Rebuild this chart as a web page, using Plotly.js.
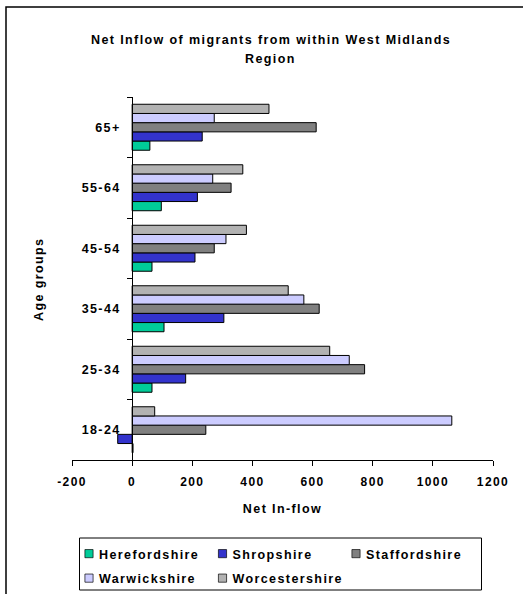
<!DOCTYPE html>
<html>
<head>
<meta charset="utf-8">
<script src="https://cdn.plot.ly/plotly-3.0.1.min.js"></script>
<style>
html,body{margin:0;padding:0;background:#fff;}
#chart{width:523px;height:594px;}
svg text{letter-spacing:1.4px;}
.legendpoints path{transform:translate(30px,0px) scale(0.68);}
</style>
</head>
<body>
<div id="chart"></div>
<script>
// Data
const ageGroups = ['18-24', '25-34', '35-44', '45-54', '55-64', '65+'];
const herefordshire  = [3, 66, 106, 66, 97, 59];
const shropshire     = [-48, 178, 305, 209, 217, 233];
const staffordshire  = [245, 773, 622, 273, 329, 612];
const warwickshire   = [1063, 722, 571, 312, 268, 273];
const worcestershire = [75, 657, 519, 380, 368, 455];
const seriesNames  = ['Herefordshire', 'Shropshire', 'Staffordshire', 'Warwickshire', 'Worcestershire'];
const seriesColors = ['#00CC99', '#3333CC', '#808080', '#CCCCFF', '#B2B2B2'];
const seriesLegend = ['legend', 'legend', 'legend', 'legend2', 'legend2'];
const xTickVals = [-200, 0, 200, 400, 600, 800, 1000, 1200];
const xTickText = ['-200', '0', '200', '400', '600', '800', '1000', '1200'];

const seriesValues = [herefordshire, shropshire, staffordshire, warwickshire, worcestershire];
const FONT = 'Liberation Sans, Arial, sans-serif';
const FS = 12.5;

const traces = seriesValues.map((vals, i) => ({
  type: 'bar',
  orientation: 'h',
  name: seriesNames[i],
  legend: seriesLegend[i],
  legendwidth: (i === 2 || i === 4) ? 110 : 88.5,
  y: ageGroups,
  x: vals,
  marker: { color: seriesColors[i], line: { color: '#000', width: 1 } },
  hoverinfo: 'x+y+name'
}));

const L = 72, R = 30, T = 97, B = 134;
const W = 523 - L - R, H = 594 - T - B;
const px2x = p => (p - L) / W;
const px2y = p => (594 - B - p) / H;

const legendCommon = {
  orientation: 'h', xanchor: 'left', yanchor: 'top',
  borderwidth: 0, bgcolor: 'rgba(0,0,0,0)',
  entrywidth: 88.5, entrywidthmode: 'pixels',
  traceorder: 'normal',
  font: { family: FONT, size: FS, weight: 'bold', color: '#000' }
};

const layout = {
  width: 523, height: 594,
  margin: { l: L, r: R, t: T, b: B, autoexpand: false },
  paper_bgcolor: '#fff', plot_bgcolor: '#fff',
  font: { family: FONT, color: '#000', weight: 'bold' },
  showlegend: true,
  barmode: 'group',
  bargap: 0.24,
  bargroupgap: 0,
  title: {
    text: 'Net Inflow of migrants from within West Midlands',
    xref: 'container', x: 271 / 523, xanchor: 'center',
    yref: 'container', y: 1 - 35.5 / 594, yanchor: 'top',
    pad: { t: 0, b: 0, l: 0, r: 0 },
    font: { family: FONT, size: FS, weight: 'bold', color: '#000' }
  },
  xaxis: {
    range: [-200, 1200],
    tickmode: 'array', tickvals: xTickVals, ticktext: xTickText,
    showgrid: false, zeroline: false,
    showline: true, linecolor: '#000', linewidth: 1,
    ticks: 'outside', ticklen: 5, tickcolor: '#000',
    ticklabelstandoff: 6,
    tickfont: { family: FONT, size: 12, weight: 'bold' },
    title: { text: 'Net In-flow', standoff: 15, font: { family: FONT, size: FS, weight: 'bold' } },
    fixedrange: true
  },
  yaxis: {
    type: 'category',
    categoryorder: 'array', categoryarray: ageGroups,
    anchor: 'free', position: 200 / 1400,
    showgrid: false, zeroline: false,
    showline: true, linecolor: '#000', linewidth: 1,
    ticks: 'outside', tickson: 'boundaries', ticklen: 5, tickcolor: '#000',
    ticklabelstandoff: 9,
    tickfont: { family: FONT, size: FS, weight: 'bold' },
    fixedrange: true
  },
  annotations: [
    {
      text: 'Region',
      xref: 'paper', yref: 'paper',
      x: px2x(270), y: px2y(59), xanchor: 'center', yanchor: 'middle',
      showarrow: false,
      font: { family: FONT, size: FS, weight: 'bold', color: '#000' }
    },
    {
      text: 'Age groups', textangle: -90,
      xref: 'paper', yref: 'paper',
      x: px2x(39), y: px2y(280), xanchor: 'center', yanchor: 'middle',
      showarrow: false,
      font: { family: FONT, size: FS, weight: 'bold', color: '#000' }
    }
  ],
  legend: Object.assign({}, legendCommon, { x: px2x(59), y: px2y(539) }),
  legend2: Object.assign({}, legendCommon, { x: px2x(59), y: px2y(563.5) }),
  shapes: [
    {
      type: 'path', xref: 'paper', yref: 'paper',
      path: `M ${px2x(6)},${px2y(600)} L ${px2x(6)},${px2y(7)} L ${px2x(530)},${px2y(7)}`,
      line: { color: '#000', width: 1.5 }
    },
    {
      type: 'rect', xref: 'paper', yref: 'paper',
      x0: px2x(79.5), x1: px2x(481.5), y0: px2y(538), y1: px2y(590),
      line: { color: '#000', width: 1 }, fillcolor: 'rgba(0,0,0,0)'
    }
  ]
};

Plotly.newPlot('chart', traces, layout, { displayModeBar: false, staticPlot: true });
</script>
</body>
</html>
